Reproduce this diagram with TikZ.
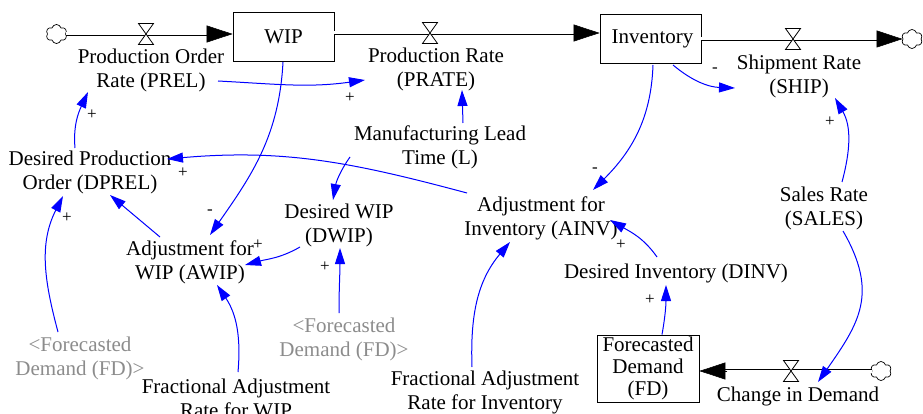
\documentclass[tikz,border=0pt]{standalone}
\usepackage{fontspec}
\setmainfont{Liberation Serif}
\usetikzlibrary{arrows.meta,shapes.symbols}

\definecolor{linkblue}{RGB}{0,0,255}
\definecolor{shadowtext}{RGB}{140,140,140}

\tikzset{
  valve/.pic={
    \draw[line width=0.8pt, fill=white]
      (-7.5,10.5) -- (7.5,10.5) -- (0,0) -- cycle
      (-7.5,-10.5) -- (7.5,-10.5) -- (0,0) -- cycle;
  }
}

\begin{document}
\begin{tikzpicture}[x=1pt,y=1pt,
  var/.style={align=center, font=\fontsize{21}{24}\selectfont, inner sep=1pt},
  ghost/.style={var, text=shadowtext},
  stock/.style={draw, line width=0.8pt, minimum width=101pt, minimum height=49pt,
                font=\fontsize{21}{24}\selectfont, inner sep=0pt, align=center},
  sign/.style={font=\fontsize{17}{17}\selectfont, inner sep=0pt},
  link/.style={draw=linkblue, line width=1pt, -{Triangle[length=16pt,width=10pt]}},
  pipe/.style={draw, line width=0.9pt, double=white, double distance=3pt},
  pipehead/.style={line width=0.5pt, -{Triangle[length=26pt,width=17pt]}},
  sink/.style={cloud, cloud puffs=6, cloud puff arc=150, aspect=1.15, draw, fill=white,
               line width=0.7pt, minimum width=21pt, minimum height=19pt, inner sep=0pt}
]
\useasboundingbox (0,0) rectangle (923,-414);

% ---------- stocks ----------
\node[stock] (wip) at (283.5,-36.5) {WIP};
\node[stock] (inv) at (650.5,-39) {\hspace*{4pt}Inventory};
\node[stock, minimum width=102pt, minimum height=67pt,
      font=\fontsize{21}{22}\selectfont] (fd) at (648,-368.5) {Forecasted\\Demand\\(FD)};

% ---------- sources and sinks ----------
\node[sink] (src1) at (56.5,-34) {};
\node[sink] (snk1) at (912,-39) {};
\node[sink] (src2) at (881,-371) {};

% ---------- flow pipes ----------
\coordinate (wipin) at (src1.east -| wip.west);
\draw[pipe] (src1.east) -- ([xshift=-20pt]wipin);
\draw[pipehead] ([xshift=-26pt]wipin) -- (wipin);

\coordinate (wipout) at ([yshift=3.5pt]wip.east);
\coordinate (invin) at (wipout -| inv.west);
\draw[pipe] (wipout) -- ([xshift=-20pt]invin);
\draw[pipehead] ([xshift=-26pt]invin) -- (invin);

\coordinate (invout) at (inv.east);
\coordinate (snkin) at (invout -| snk1.west);
\draw[pipe] (invout) -- ([xshift=-20pt]snkin);
\draw[pipehead] ([xshift=-26pt]snkin) -- (snkin);

\coordinate (srcout) at (src2.west);
\coordinate (fdin) at (srcout -| fd.east);
\draw[pipe] (srcout) -- ([xshift=20pt]fdin);
\draw[pipehead] ([xshift=28pt]fdin) -- (fdin);

% ---------- valves ----------
\pic at (146,-34) {valve};
\pic at (430,-33) {valve};
\pic at (793,-39) {valve};
\pic at (791,-371) {valve};

% ---------- variables ----------
\node[var] (prel)  at (151,-70)  {Production Order\\Rate (PREL)};
\node[var] (prate) at (436,-69)  {Production Rate\\(PRATE)};
\node[var] (ship)  at (799,-76)  {Shipment Rate\\(SHIP)};
\node[var] (mlt)   at (440,-147) {Manufacturing Lead\\Time (L)};
\node[var] (dprel) at (90,-172)  {Desired Production\\Order (DPREL)};
\node[var] (awip)  at (190,-262) {Adjustment for\\WIP (AWIP)};
\node[var] (dwip)  at (339,-225) {Desired WIP\\(DWIP)};
\node[var] (ainv)  at (541,-218) {Adjustment for\\Inventory (AINV)};
\node[var] (dinv)  at (676,-273) {Desired Inventory (DINV)};
\node[var] (sales) at (824,-208) {Sales Rate\\(SALES)};
\node[var] (cid)   at (798,-396) {Change in Demand};
\node[var] (farwip) at (236,-398) {Fractional Adjustment\\Rate for WIP};
\node[var] (farinv) at (485,-392) {Fractional Adjustment\\Rate for Inventory};
\node[ghost] (gfdA) at (80,-358)  {<Forecasted\\Demand (FD)>};
\node[ghost] (gfdB) at (344,-339) {<Forecasted\\Demand (FD)>};

% ---------- causal links ----------
\draw[link] ([shift={(67,-11)}]prel.center) to[out=-3,in=188] ([shift={(-71,-11)}]prate.center);
\draw[link] ([shift={(-0.5,-25.5)}]wip.center) to[out=-93,in=55] ([shift={(20,27)}]awip.center);
\draw[link] ([shift={(23,24)}]mlt.center) -- ([shift={(26,-21)}]prate.center);
\draw[link] ([shift={(-90,-10)}]mlt.center) to[out=-125,in=80] ([shift={(-6,25)}]dwip.center);
\draw[link] ([shift={(-39,-22)}]dwip.center) to[out=-150,in=15] ([shift={(55,-3)}]awip.center);
\draw[link] ([shift={(-30,25)}]awip.center) -- ([shift={(20,-23)}]dprel.center);
\draw[link] ([shift={(-22,26)}]gfdA.center) to[out=105,in=243] ([shift={(-27,-24)}]dprel.center);
\draw[link] ([shift={(-15,24)}]dprel.center) to[out=95,in=245] ([shift={(-63,-22)}]prel.center);
\draw[link] ([shift={(-74,25)}]ainv.center) to[out=165,in=5] ([shift={(77,13)}]dprel.center);
\draw[link] ([shift={(2.5,-26)}]inv.center) to[out=-92,in=45] ([shift={(52,28)}]ainv.center);
\draw[link] ([shift={(22.5,-26)}]inv.center) to[out=-40,in=178] ([shift={(-64,-12)}]ship.center);
\draw[link] ([shift={(18,26)}]sales.center) to[out=75,in=300] ([shift={(36,-22)}]ship.center);
\draw[link] ([shift={(19,-23)}]sales.center) to[out=-60,in=55,looseness=1.2] ([shift={(20,14)}]cid.center);
\draw[link] ([xshift=14pt]fd.north) to[out=80,in=-90] ([shift={(-10,-12)}]dinv.center);
\draw[link] ([shift={(-19,16)}]dinv.center) to[out=125,in=-30] ([shift={(69,-2)}]ainv.center);
\draw[link] ([shift={(-13,25)}]farinv.center) to[out=92,in=230] ([shift={(-31,-24)}]ainv.center);
\draw[link] ([shift={(2,26)}]farwip.center) to[out=85,in=-56] ([shift={(27,-23)}]awip.center);
\draw[link] ([shift={(-5,26)}]gfdB.center) to[out=90,in=-90] ([shift={(1,-23)}]dwip.center);

% ---------- link polarities ----------
\node[sign] (s1)  at (350,-98)  {+};
\node[sign] (s2)  at (92,-115)  {+};
\node[sign] (s3)  at (183,-173) {+};
\node[sign] (s4)  at (67,-218)  {+};
\node[sign] (s5)  at (210,-212) {-};
\node[sign] (s6)  at (258,-245) {+};
\node[sign] (s7)  at (325,-267) {+};
\node[sign] (s8)  at (595,-170) {-};
\node[sign] (s9)  at (621,-245) {+};
\node[sign] (s10) at (650,-300) {+};
\node[sign] (s11) at (715,-70)  {-};
\node[sign] (s12) at (830,-122) {+};
\end{tikzpicture}
\end{document}
